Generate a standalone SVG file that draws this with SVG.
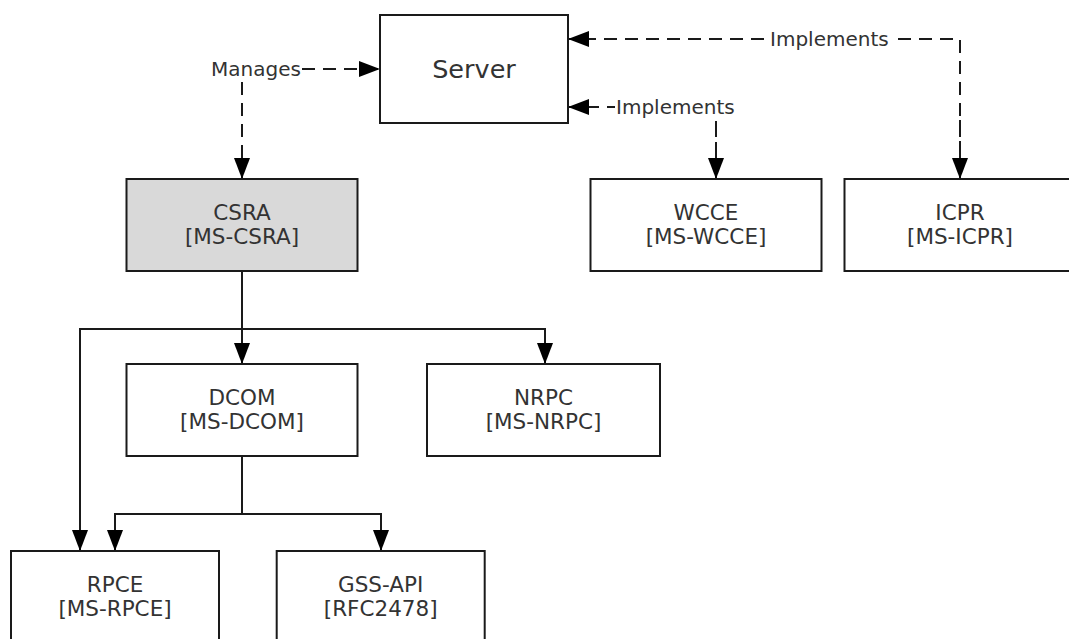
<svg xmlns="http://www.w3.org/2000/svg" width="1069" height="639" viewBox="0 0 1069 639">
<style>
.box{fill:#ffffff;stroke:#1a1a1a;stroke-width:2}
.shaded{fill:#d9d9d9}
.t{font-family:"DejaVu Sans","Verdana",sans-serif;font-size:21.5px;fill:#333333;text-anchor:middle}
.big{font-size:25.5px}
.lbl{font-family:"DejaVu Sans","Verdana",sans-serif;font-size:20px;fill:#333333}
.solid{fill:none;stroke:#1a1a1a;stroke-width:2}
.dash{fill:none;stroke:#1a1a1a;stroke-width:2;stroke-dasharray:13 8}
.bg{fill:#ffffff}
</style>
<defs>
<marker id="arr" markerUnits="userSpaceOnUse" markerWidth="22" markerHeight="16" refX="21" refY="8" orient="auto">
<path d="M0,0 L21,8 L0,16 z" fill="#000000"/>
</marker>
</defs>
<rect width="1069" height="639" fill="#ffffff"/>
<g id="connectors">
<path class="dash" d="M242,82 L242,179" marker-end="url(#arr)"/>
<path class="dash" d="M302,69 L380,69" marker-end="url(#arr)"/>
<path class="dash" d="M960,179 L960,39 L568,39" marker-end="url(#arr)"/>
<path class="dash" d="M960,120 L960,179" marker-end="url(#arr)"/>
<path class="dash" d="M716,179 L716,107 L568,107" marker-end="url(#arr)"/>
<path class="dash" d="M716,121 L716,179" marker-end="url(#arr)"/>
<path class="solid" d="M242,271 L242,364" marker-end="url(#arr)"/>
<path class="solid" d="M80,551 L80,329 L545,329 L545,364" marker-end="url(#arr)"/>
<path class="solid" d="M80,529 L80,551" marker-end="url(#arr)"/>
<path class="solid" d="M242,456 L242,514 L115,514 L115,551" marker-end="url(#arr)"/>
<path class="solid" d="M242,514 L381,514 L381,551" marker-end="url(#arr)"/>
<rect class="bg" x="209" y="55" width="93" height="27"/>
<text class="lbl" x="211" y="76">Manages</text>
<rect class="bg" x="768" y="27" width="123" height="25"/>
<text class="lbl" x="770" y="46">Implements</text>
<rect class="bg" x="615" y="95" width="124" height="26"/>
<text class="lbl" x="616" y="114">Implements</text>
</g>
<g id="server">
<rect class="box" x="380" y="15" width="188" height="108"/>
<text class="t big" x="474" y="78">Server</text>
</g>
<g id="csra">
<rect class="box shaded" x="126.5" y="179" width="231" height="92"/>
<text class="t" x="242" y="219.5">CSRA</text>
<text class="t" x="242" y="244">[MS-CSRA]</text>
</g>
<g id="wcce">
<rect class="box" x="590.5" y="179" width="231" height="92"/>
<text class="t" x="706" y="219.5">WCCE</text>
<text class="t" x="706" y="244">[MS-WCCE]</text>
</g>
<g id="icpr">
<rect class="box" x="844.5" y="179" width="231" height="92"/>
<text class="t" x="960" y="219.5">ICPR</text>
<text class="t" x="960" y="244">[MS-ICPR]</text>
</g>
<g id="dcom">
<rect class="box" x="126.5" y="364" width="231" height="92"/>
<text class="t" x="242" y="404.5">DCOM</text>
<text class="t" x="242" y="429">[MS-DCOM]</text>
</g>
<g id="nrpc">
<rect class="box" x="427" y="364" width="233" height="92"/>
<text class="t" x="543.5" y="404.5">NRPC</text>
<text class="t" x="543.5" y="429">[MS-NRPC]</text>
</g>
<g id="rpce">
<rect class="box" x="11" y="551" width="208" height="92"/>
<text class="t" x="115" y="591.5">RPCE</text>
<text class="t" x="115" y="616">[MS-RPCE]</text>
</g>
<g id="gssapi">
<rect class="box" x="276.7" y="551" width="208" height="92"/>
<text class="t" x="380.7" y="591.5">GSS-API</text>
<text class="t" x="380.7" y="616">[RFC2478]</text>
</g>
</svg>
